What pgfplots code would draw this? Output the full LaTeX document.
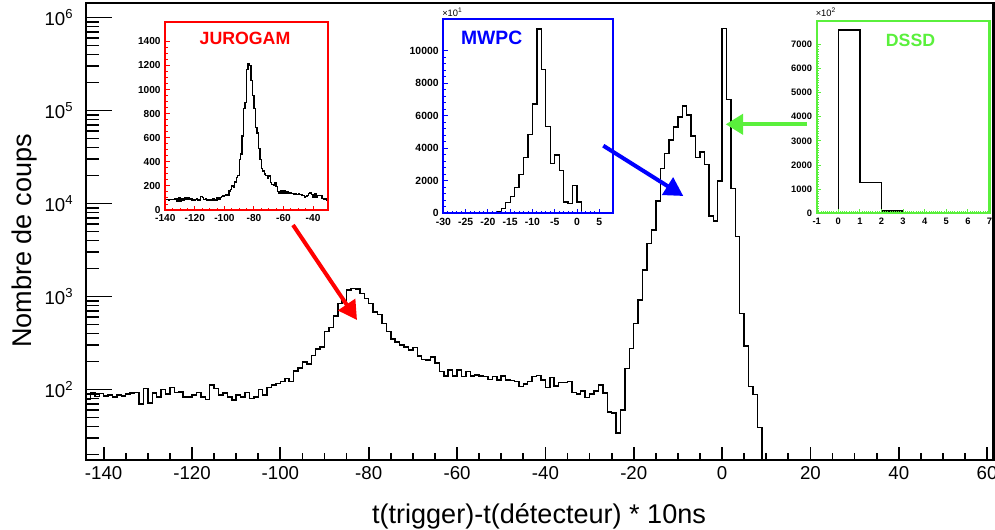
\documentclass[border=0pt]{standalone}
\usepackage{fontspec}
\setmainfont{Liberation Sans}
\usepackage{pgfplots}
\pgfplotsset{compat=1.18}
\usepackage{pgfplotstable}
\usetikzlibrary{arrows.meta}
\definecolor{rootgreen}{RGB}{90,240,60}
\definecolor{rootblue}{RGB}{0,0,255}
\definecolor{rootred}{RGB}{255,0,0}

\pgfplotstableread{
x y
-144 78
-143 93
-142 84
-141 90
-140 85
-139 87
-138 83
-137 87
-136 85
-135 89
-134 91
-133 92
-132 70
-131 102
-130 71
-129 91
-128 83
-127 100
-126 89
-125 105
-124 92
-123 94
-122 83
-121 83
-120 87
-119 92
-118 83
-117 78
-116 111
-115 102
-114 87
-113 91
-112 83
-111 77
-110 87
-109 83
-108 92
-107 80
-106 83
-105 100
-104 87
-103 105
-102 111
-101 116
-100 121
-99 131
-98 122
-97 158
-96 170
-95 198
-94 187
-93 232
-92 272
-91 285
-90 417
-89 464
-88 614
-87 840
-86 890
-85 1168
-84 1218
-83 1198
-82 1076
-81 951
-80 840
-79 683
-78 639
-77 512
-76 417
-75 347
-74 325
-73 299
-72 287
-71 265
-70 283
-69 228
-68 210
-67 207
-66 224
-65 193
-64 155
-63 139
-62 161
-61 139
-60 161
-59 137
-58 155
-57 139
-56 143
-55 139
-54 137
-53 128
-52 137
-51 126
-50 139
-49 126
-48 124
-47 121
-46 107
-45 114
-44 121
-43 137
-42 141
-41 126
-40 105
-39 134
-38 109
-37 118
-36 118
-35 121
-34 93
-33 89
-32 96
-31 82
-30 89
-29 96
-28 111
-27 91
-26 57
-25 56
-24 34
-23 60
-22 168
-21 276
-20 512
-19 912
-18 1918
-17 3710
-16 5160
-15 10600
-14 23800
-13 34500
-12 48000
-11 66700
-10 85400
-9 111200
-8 89000
-7 53000
-6 31000
-5 35900
-4 26200
-3 7300
-2 6500
-1 17500
0 760000
1 131000
2 14500
3 4380
4 656
5 294
6 108
7 88
8 38.7
9 1
}\maintable

\pgfplotstableread{
x y
-30 0
-29 0
-28 0
-27 0
-26 0
-25 0
-24 0
-23 0
-22 3
-21 6
-20 15
-19 40
-18 100
-17 300
-16 650
-15 1020
-14 1600
-13 2380
-12 3420
-11 4850
-10 6720
-9 11330
-8 8850
-7 5330
-6 3070
-5 3590
-4 2620
-3 700
-2 620
-1 1720
0 700
1 30
2 0
8 0
}\mwpctable

\pgfplotstableread{
x y
-1 0
0 7590
1 1270
2 100
3 30
4 0
7 0
}\dssdtable

\pgfplotsset{
  inset/.style={
    scale only axis, anchor=south west,
    axis background/.style={fill=white},
    axis on top,
    separate axis lines,
    tick pos=left, tick align=inside,
    axis line style={#1, line width=1.6pt, line cap=rect},
    every tick/.style={#1, line width=0.7pt},
    major tick length=3.2pt, minor tick length=1.8pt,
    /pgf/number format/assume math mode=true,
    /pgf/number format/1000 sep={},
    scaled y ticks=false, scaled x ticks=false,
  }
}

\begin{document}
\begin{tikzpicture}
\useasboundingbox (0,0) rectangle (746.25pt,396.75pt);

% main axis
\begin{axis}[
  at={(64.5pt,51.75pt)}, anchor=south west,
  scale only axis, width=680.8pt, height=342.75pt,
  ymode=log,
  xmin=-144, xmax=61.5, ymin=17.4, ymax=1.43e6,
  axis on top,
  separate axis lines,
  tick pos=left, tick align=inside,
  axis line style={line width=2.2pt, line cap=rect},
  xtick={-140,-120,...,60},
  minor x tick num=3,
  ytick={1e2,1e3,1e4,1e5,1e6},
  yticklabels={10\textsuperscript{2},10\textsuperscript{3},10\textsuperscript{4},10\textsuperscript{5},10\textsuperscript{6}},
  minor ytick={20,30,40,50,60,70,80,90,200,300,400,500,600,700,800,900,2000,3000,4000,5000,6000,7000,8000,9000,20000,30000,40000,50000,60000,70000,80000,90000,200000,300000,400000,500000,600000,700000,800000,900000},
  xtick style={/pgfplots/major tick length=10pt,/pgfplots/minor tick length=5pt, line width=1.3pt, black},
  ytick style={/pgfplots/major tick length=19.5pt,/pgfplots/minor tick length=10pt, line width=1.3pt, black},
  tick label style={font=\fontsize{14}{16}\selectfont},
  /pgf/number format/assume math mode=true,
  xticklabel style={yshift=-1.6pt},
  yticklabel style={xshift=-6pt},
]
\addplot[const plot mark left, black, line width=1.1pt] table {\maintable};
\end{axis}

% JUROGAM inset
\begin{axis}[
  inset=rootred,
  at={(123.98pt,239.25pt)},
  width=121.9pt, height=141.2pt,
  xmin=-140, xmax=-30, ymin=0, ymax=1563,
  xtick={-140,-120,...,-40}, minor x tick num=3,
  ytick={0,200,...,1400}, minor y tick num=3,
  tick label style={font=\fontsize{7.6}{8}\selectfont\bfseries, black},
]
\addplot[const plot mark left, black, line width=1.0pt, restrict x to domain=-141:-29] table {\maintable};
\end{axis}

% MWPC inset
\begin{axis}[
  inset=rootblue,
  at={(332.5pt,236.8pt)},
  width=127pt, height=145.5pt,
  xmin=-30, xmax=8, ymin=0, ymax=11930,
  xtick={-30,-25,...,5}, minor x tick num=4,
  ytick={0,2000,...,10000}, minor y tick num=4,
  tick label style={font=\fontsize{7.8}{8}\selectfont\bfseries, black},
]
\addplot[const plot mark left, black, line width=1.0pt] table {\mwpctable};
\end{axis}

% DSSD inset
\begin{axis}[
  inset=rootgreen,
  at={(612.5pt,236.8pt)},
  width=129.6pt, height=144.2pt,
  xmin=-1, xmax=7, ymin=0, ymax=7966,
  xtick={-1,0,...,7}, minor x tick num=9,
  ytick={0,1000,...,7000}, minor y tick num=9,
  tick label style={font=\fontsize{7}{8}\selectfont\bfseries, black},
]
\addplot[const plot mark left, black, line width=1.0pt] table {\dssdtable};
\end{axis}

\begin{scope}[x=0.75pt,y=0.75pt]
  % titles
  \node[text=rootred, font=\fontsize{13.3}{15}\selectfont\bfseries, anchor=center] at (245,490.2) {JUROGAM};
  \node[text=rootblue, font=\fontsize{14.5}{16}\selectfont\bfseries, anchor=center] at (491.7,490.7) {MWPC};
  \node[text=rootgreen, font=\fontsize{13.3}{15}\selectfont\bfseries, anchor=center] at (910.5,489) {DSSD};
  % multipliers
  \node[font=\fontsize{7}{8}\selectfont, anchor=south west, inner sep=0pt] at (442,512) {×10\textsuperscript{1}};
  \node[font=\fontsize{7}{8}\selectfont, anchor=south west, inner sep=0pt] at (815.5,512) {×10\textsuperscript{2}};
  % arrows
  \draw[rootred, line width=3pt, -{Triangle[length=14pt,width=15pt]}] (293,304) -- (357,209);
  \draw[rootblue, line width=3pt, -{Triangle[length=14pt,width=15pt]}] (603.3,383.3) -- (683.3,333);
  \draw[rootgreen, line width=3pt, -{Triangle[length=13pt,width=15pt]}] (807,404.7) -- (725.7,404.7);
  % axis titles
  \node[font=\fontsize{20.3}{24}\selectfont, anchor=base] at (539,5.7) {t(trigger)-t(détecteur) * 10ns};
  \node[font=\fontsize{20.3}{24}\selectfont, anchor=base, rotate=90] at (31.7,288) {Nombre de coups};
\end{scope}
\end{tikzpicture}
\end{document}
